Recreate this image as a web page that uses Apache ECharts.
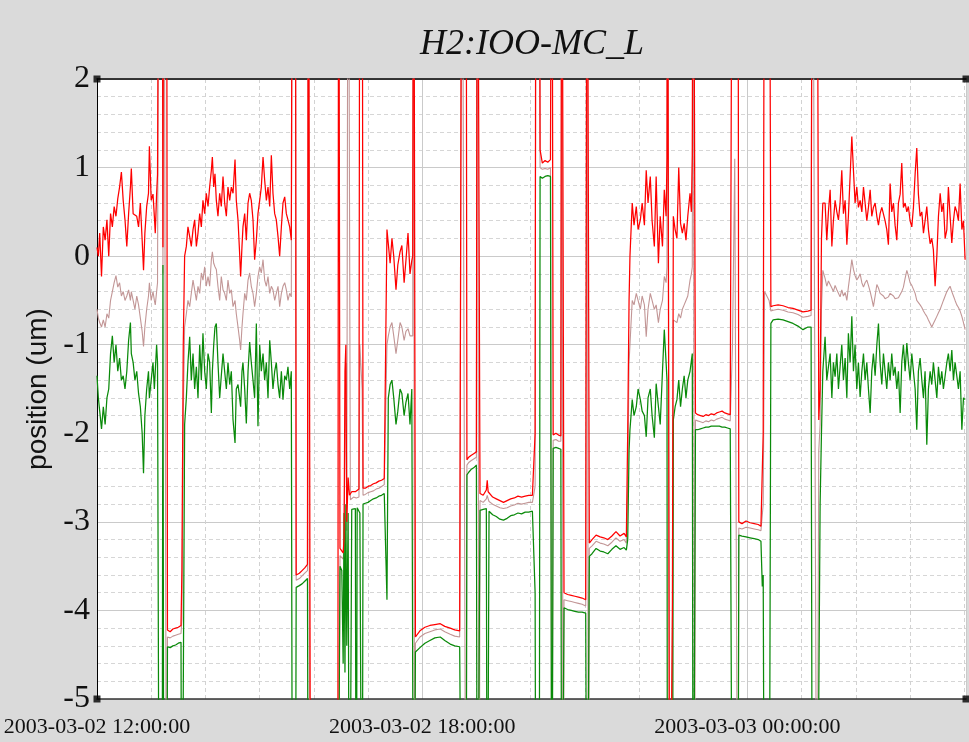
<!DOCTYPE html>
<html><head><meta charset="utf-8">
<script src="https://cdn.jsdelivr.net/npm/echarts@6/dist/echarts.min.js"></script>
<style>html,body{margin:0;padding:0;background:#dadada;}#main{width:969px;height:742px;}</style>
</head><body><div id="main"></div>
<script>
const titleText = 'H2:IOO-MC_L';
const yAxisName = 'position (um)';
const xTickLabels = ['2003-03-02 12:00:00', '2003-03-02 18:00:00', '2003-03-03 00:00:00'];
const xTickStep = 360;      // minutes between labelled ticks
const xMinorStep = 60;      // minutes between minor grid lines
const xMax = 962;           // minutes after 2003-03-02 12:00:00
const yMin = -5, yMax = 2;

// minutes after 2003-03-02 12:00:00
const minutes = [
  0,1.5,3,5,7,9,11,13,15,17,19,21,23,25,27,29,31,33,35,37,38,40,42,44,46,48,50,51.5,53,55,57,58,60,62,63.5,64.5,66,67,
  68,69,72,73,74,77,
  78,81,84,87,90,93,
  94,95.5,
  97.0,98.9,100.7,102.6,104.4,106.3,108.1,110.0,111.8,113.7,115.5,117.3,119.2,121.0,122.9,124.7,126.6,127.7,129.2,130.6,132.1,133.9,135.8,137.6,139.5,141.3,143.2,145.0,146.9,148.7,150.6,152.8,154.2,156.1,157.9,159.0,160.5,161.6,163.5,165.3,167.2,169.0,170.8,172.7,174.5,176.4,178.2,180.1,181.9,183.8,185.6,187.5,189.3,191.2,193.0,194.8,196.7,198.5,200.4,202.2,204.1,205.9,207.8,209.6,211.4,213.3,215.1,
  216.5,219.5,
  220.5,224,227,230,233,
  234,235.5,236.5,266.5,
  267.5,269,271,272.5,273.5,274.5,275.5,276.5,278,279.5,280.5,282,284,286,287,288,290,291,293.5,294.5,
  297,300,303,306,309,312,315,318,320,
  321,322.5,324.5,326.5,328.5,331,333,335.5,337.5,340,342,344.3,346.5,348.5,349.5,
  350.5,351.5,
  352.5,357.5,363,368.5,374,380,385,391,396,401.5,403,
  404,408.5,
  409.5,411.5,414,417,420,
  421,423,
  424,427.5,431,432,433,434,438,442,446,450,454,458,462,466,470,474,478,482,484,
  485,486,489.5,
  490.5,493,496,499,502,
  503.5,
  505,508,511,513.5,
  514.5,516,
  517,521,525,529,533,537,541,
  542.5,544,
  545,548,552.5,557,561,565.5,570,574.5,579,583.5,586,
  587.5,589,
  590,592.5,594.5,597,599,601.5,603.5,606,608,610,612.5,614.5,617,619,621.5,623.5,626,628,630,631,
  631.5,633,634,636,637,
  638,640,642,644,646,648,650,652,654,656.5,658,659,
  660,661.5,
  662.5,665,668,671,674,677,680,683,686,689,692,695,698,701,702.5,
  703.5,706,709.5,
  710.5,714,718.5,723,727.5,732,735,736.5,
  737.5,739,744,
  746,748.5,754,759.5,765,770.5,776,781.5,787,790.5,
  792,797,799,800.5,802,803.5,
  806.0,807.9,809.7,811.6,813.5,815.2,817.1,819.0,820.8,822.6,824.5,826.3,828.2,830.1,831.8,833.7,835.6,837.4,839.2,841.1,842.9,844.8,846.7,848.5,850.3,852.2,854.0,855.9,857.7,859.5,861.4,863.3,865.1,866.9,868.8,870.6,872.4,874.3,876.1,878.0,879.8,881.7,883.5,885.4,887.2,889.1,890.9,892.7,894.6,896.5,898.2,900.1,902.0,903.8,905.7,907.5,909.3,911.2,913.1,914.9,916.7,918.6,920.4,922.3,924.1,925.9,927.8,929.7,931.5,933.4,935.2,937.0,938.9,940.8,942.5,944.4,946.3,948.1,949.9,951.8,953.6,955.5,957.4,959.2,961.0
];

// maximum (red)
const maxValues = [
  0.1,0.0,0.26,-0.23,0.33,0.18,0.41,0.0,0.48,0.33,0.56,0.45,0.65,0.78,0.95,0.63,0.41,0.11,0.48,0.78,0.99,0.48,0.5,0.45,0.33,0.6,0.18,-0.16,0.26,0.56,0.71,1.24,0.63,0.7,0.45,0.26,0.7,0.92,
  0.9,6,6,0.1,6,6,
  -4.22,-4.24,-4.21,-4.20,-4.19,-4.17,
  -3.55,-1.0,
  0.0,0.11,0.33,0.22,0.11,0.30,0.41,0.11,0.26,0.48,0.33,0.63,0.48,0.71,0.56,0.78,0.97,1.12,0.78,0.93,0.63,0.45,0.71,0.56,0.90,0.60,0.45,0.78,0.63,0.78,0.71,1.09,0.63,0.41,0.03,-0.23,0.11,0.33,0.48,0.18,0.60,0.71,0.63,0.41,-0.04,0.18,0.48,0.63,0.78,1.12,0.86,0.63,0.78,0.56,1.14,0.71,0.48,0.41,0.22,0.0,0.33,0.60,0.67,0.48,0.41,0.33,0.18,
  6,6,
  -3.60,-3.58,-3.55,-3.52,-3.48,
  6,6,-8,-8,
  6,-3.3,-3.32,-3.35,-3.2,-1.3,-1.0,-3.0,-2.5,-2.7,-2.68,-2.66,-2.64,-2.66,-2.65,-2.64,-2.63,6,6,-2.62,
  -2.62,-2.60,-2.59,-2.57,-2.56,-2.54,-2.53,-2.51,-2.50,
  0.3,0.3,-0.08,0.2,0.0,-0.38,-0.1,0.05,0.12,-0.3,-0.05,0.26,-0.2,-0.05,0.0,
  6,6,
  -4.30,-4.23,-4.19,-4.17,-4.16,-4.15,-4.18,-4.20,-4.22,-4.23,-4.24,
  6,6,
  -2.30,-2.27,-2.25,-2.23,-2.21,
  6,6,
  -2.68,-2.70,-2.64,-2.53,-2.66,-2.68,-2.72,-2.74,-2.76,-2.78,-2.76,-2.74,-2.73,-2.71,-2.72,-2.71,-2.70,-2.70,-2.69,
  -2.0,6,6,
  1.2,1.05,1.08,1.06,1.09,
  6,
  -2.02,-2.00,-2.02,-2.03,
  6,6,
  -3.80,-3.82,-3.83,-3.84,-3.85,-3.86,-3.88,
  6,6,
  -3.24,-3.20,-3.15,-3.17,-3.18,-3.20,-3.16,-3.11,-3.16,-3.13,-3.17,
  -2.0,-0.5,
  0.0,0.6,0.35,0.56,0.3,0.41,0.6,0.35,0.97,0.6,0.9,0.4,0.11,0.9,-0.08,0.45,0.11,0.75,0.45,1.12,
  6,6,-8,-8,-3.9,
  0.45,0.3,0.2,1.0,0.37,0.26,0.37,0.18,0.45,0.71,0.5,1.14,
  6,6,
  -1.77,-1.79,-1.80,-1.81,-1.79,-1.80,-1.78,-1.79,-1.77,-1.76,-1.75,-1.77,-1.78,-1.79,-1.80,
  6,6,6,
  -3.00,-3.02,-2.99,-3.01,-3.02,-3.03,-3.05,-3.06,
  -2.0,6,6,
  -0.57,-0.56,-0.55,-0.56,-0.58,-0.59,-0.61,-0.63,-0.62,-0.61,
  6,6,-1.85,-1.5,0.2,0.6,
  0.60,0.18,0.5,0.75,0.11,0.4,0.63,0.5,0.41,0.6,0.97,0.48,0.63,0.13,0.45,0.9,1.35,0.97,0.6,0.78,0.55,0.63,0.5,0.78,0.6,0.4,0.55,0.75,0.45,0.55,0.6,0.45,0.35,0.48,0.55,0.56,0.4,0.3,0.13,0.82,0.5,0.6,0.35,0.18,0.6,0.7,1.05,0.55,0.6,0.5,0.56,0.4,0.33,0.55,0.93,1.22,0.7,0.45,0.5,0.26,0.4,0.56,0.3,0.14,0.2,0.07,-0.34,0.0,0.45,0.71,0.5,0.6,0.2,0.3,0.78,0.45,0.15,0.4,0.56,0.5,0.4,0.82,0.3,0.4,-0.04
];

// mean (rosy)
const meanValues = [
  -0.6,-0.7,-0.75,-0.8,-0.72,-0.8,-0.65,-0.7,-0.5,-0.4,-0.3,-0.22,-0.35,-0.3,-0.45,-0.4,-0.5,-0.45,-0.38,-0.5,-0.4,-0.5,-0.6,-0.45,-0.55,-0.7,-0.85,-1.02,-0.8,-0.6,-0.45,-0.3,-0.5,-0.4,-0.5,-0.55,-0.4,-0.3,
  -0.3,6,6,-0.2,6,-8,
  -4.30,-4.31,-4.29,-4.28,-4.27,-4.26,
  -4.1,-1.8,
  -0.80,-0.65,-0.50,-0.57,-0.42,-0.27,-0.38,-0.50,-0.34,-0.42,-0.19,-0.27,-0.12,-0.34,-0.23,-0.34,-0.04,0.05,-0.08,-0.12,-0.15,-0.34,-0.50,-0.23,-0.38,-0.42,-0.50,-0.27,-0.42,-0.38,-0.57,-0.50,-0.65,-0.80,-0.95,-1.06,-0.80,-0.65,-0.42,-0.50,-0.27,-0.19,-0.34,-0.42,-0.57,-0.42,-0.23,-0.12,-0.19,-0.04,-0.27,-0.34,-0.23,-0.42,-0.34,-0.38,-0.50,-0.42,-0.34,-0.57,-0.42,-0.34,-0.30,-0.38,-0.50,-0.42,-0.46,
  6,6,
  -3.66,-3.64,-3.61,-3.58,-3.55,
  6,-8,-8,-8,
  -8,-3.38,-3.4,-3.42,-3.3,-2.0,-1.2,-3.1,6,6,-2.75,-2.74,-2.72,-2.74,-2.73,-2.72,-2.72,-1.0,-1.5,-2.7,
  -2.69,-2.67,-2.66,-2.65,-2.63,-2.62,-2.60,-2.58,-2.57,
  -1.0,-0.9,-0.8,-0.75,-0.9,-1.1,-0.95,-0.75,-0.8,-0.95,-0.85,-0.82,-0.9,-0.88,-0.9,
  6,-8,
  -4.37,-4.30,-4.26,-4.24,-4.22,-4.21,-4.24,-4.27,-4.29,-4.30,-4.31,
  6,-8,
  -2.36,-2.33,-2.31,-2.29,-2.27,
  6,-8,
  -2.76,-2.78,-2.74,-2.70,-2.74,-2.77,-2.80,-2.82,-2.84,-2.85,-2.84,-2.82,-2.81,-2.79,-2.80,-2.79,-2.78,-2.78,-2.77,
  -2.6,6,6,
  1.0,0.98,0.99,0.98,1.0,
  -8,
  -2.08,-2.07,-2.09,-2.09,
  6,-8,
  -3.88,-3.89,-3.90,-3.91,-3.92,-3.93,-3.95,
  6,-8,
  -3.30,-3.27,-3.22,-3.24,-3.25,-3.27,-3.23,-3.18,-3.22,-3.20,-3.24,
  -2.6,-1.2,
  -1.0,-0.5,-0.55,-0.42,-0.5,-0.6,-0.45,-0.55,-0.91,-0.6,-0.42,-0.5,-0.6,-0.55,-0.75,-0.6,-0.5,-0.23,-0.3,-0.12,
  6,6,-8,-8,-4.5,
  -0.72,-0.7,-0.75,-0.65,-0.7,-0.6,-0.55,-0.5,-0.45,-0.27,-0.2,-0.12,
  6,-8,
  -1.85,-1.86,-1.87,-1.88,-1.86,-1.87,-1.85,-1.86,-1.84,-1.83,-1.82,-1.84,-1.85,-1.86,-1.87,
  -1.0,1.1,-8,
  -3.07,-3.08,-3.06,-3.07,-3.08,-3.09,-3.10,-3.11,
  -2.8,-0.4,-0.5,
  -0.62,-0.61,-0.60,-0.61,-0.63,-0.64,-0.66,-0.69,-0.68,-0.67,
  6,-8,-2.2,-1.9,-0.6,-0.16,
  -0.25,-0.34,-0.28,-0.3,-0.36,-0.4,-0.33,-0.38,-0.42,-0.46,-0.38,-0.45,-0.41,-0.5,-0.35,-0.2,-0.04,-0.15,-0.22,-0.27,-0.24,-0.2,-0.3,-0.35,-0.3,-0.27,-0.33,-0.4,-0.48,-0.57,-0.45,-0.32,-0.36,-0.42,-0.4,-0.45,-0.48,-0.5,-0.46,-0.42,-0.44,-0.45,-0.48,-0.5,-0.47,-0.45,-0.4,-0.35,-0.25,-0.16,-0.22,-0.3,-0.33,-0.35,-0.42,-0.5,-0.52,-0.55,-0.58,-0.62,-0.65,-0.68,-0.72,-0.76,-0.8,-0.76,-0.72,-0.68,-0.64,-0.6,-0.55,-0.5,-0.45,-0.4,-0.37,-0.34,-0.4,-0.45,-0.5,-0.55,-0.58,-0.62,-0.68,-0.75,-0.83
];

// minimum (green)
const minValues = [
  -1.35,-1.6,-1.75,-1.95,-1.7,-1.9,-1.6,-1.5,-1.1,-0.9,-1.2,-1.0,-1.3,-1.15,-1.4,-1.35,-1.5,-1.3,-0.95,-0.75,-1.1,-1.2,-1.4,-1.3,-1.55,-1.7,-2.0,-2.45,-1.8,-1.5,-1.3,-1.6,-1.4,-1.2,-1.5,-1.3,-1.0,-1.2,
  -1.2,-8,-8,-0.1,-8,-8,
  -4.41,-4.42,-4.40,-4.39,-4.37,-4.36,
  -8,-8,
  -1.9,-1.6,-1.2,-0.91,-1.4,-1.1,-1.5,-1.25,-1.6,-1.0,-1.4,-0.87,-1.3,-1.5,-1.1,-1.2,-1.77,-1.3,-1.0,-0.8,-0.76,-1.2,-1.6,-1.35,-1.1,-1.3,-1.5,-1.2,-1.45,-1.3,-1.85,-2.11,-1.5,-1.45,-1.6,-1.7,-1.3,-1.2,-1.5,-1.89,-1.3,-0.97,-1.2,-1.4,-1.6,-0.76,-1.92,-1.0,-1.3,-1.1,-1.4,-1.2,-1.6,-0.95,-1.2,-1.5,-1.3,-1.2,-1.45,-1.6,-1.3,-1.62,-1.35,-1.4,-1.25,-1.5,-1.3,
  -8,-8,
  -3.74,-3.72,-3.70,-3.67,-3.64,
  -8,-8,-8,-8,
  -8,-3.5,-3.55,-4.6,-2.9,-4.7,-2.8,-4.4,-2.9,-8,-8,-2.86,-2.84,-2.85,-8,-2.84,-2.83,-2.9,-8,-2.8,
  -2.79,-2.78,-2.76,-2.74,-2.73,-2.71,-2.70,-2.68,-2.67,
  -3.88,-1.6,-1.45,-1.4,-1.6,-1.9,-1.75,-1.5,-1.55,-1.8,-1.65,-1.55,-1.9,-1.5,-1.5,
  -8,-8,
  -4.47,-4.42,-4.37,-4.34,-4.31,-4.30,-4.34,-4.38,-4.40,-4.41,-4.42,
  -8,-8,
  -2.47,-2.44,-2.41,-2.39,-2.36,
  -8,-8,
  -2.87,-2.86,-2.85,-8,-8,-2.88,-2.92,-2.94,-2.97,-2.98,-2.96,-2.93,-2.92,-2.90,-2.91,-2.89,-2.89,-2.88,-2.88,
  -3.8,-8,-8,
  0.9,0.88,0.9,0.91,0.9,
  -8,
  -2.17,-2.16,-2.17,-2.18,
  -8,-8,
  -3.97,-3.99,-4.00,-4.01,-4.02,-4.02,-4.03,
  -8,-8,
  -3.39,-3.36,-3.30,-3.33,-3.34,-3.36,-3.31,-3.27,-3.31,-3.29,-3.32,
  -3.2,-2.2,
  -1.96,-1.62,-1.8,-1.7,-1.5,-1.62,-1.75,-1.8,-2.04,-1.6,-1.5,-1.8,-2.05,-1.44,-1.7,-1.9,-1.3,-0.83,-1.2,-1.4,
  -8,-8,-8,-8,-8,
  -1.85,-1.7,-1.62,-1.4,-1.7,-1.5,-1.35,-1.6,-1.4,-1.3,-1.29,-1.1,
  -8,-8,
  -1.96,-1.96,-1.95,-1.94,-1.93,-1.93,-1.92,-1.92,-1.92,-1.92,-1.93,-1.93,-1.94,-1.95,-1.96,
  -8,-8,-8,
  -3.15,-3.16,-3.17,-3.18,-3.19,-3.20,-3.22,-3.73,
  -3.6,-8,-8,
  -0.76,-0.72,-0.71,-0.72,-0.74,-0.76,-0.79,-0.83,-0.80,-0.80,
  -8,-8,-8,-2.8,-2.0,-1.3,
  -0.91,-1.4,-1.25,-1.1,-1.6,-1.2,-1.36,-1.1,-1.5,-1.25,-1.0,-1.4,-1.15,-1.6,-0.87,-1.2,-0.68,-1.3,-1.0,-1.5,-1.2,-1.59,-1.3,-1.1,-1.4,-1.2,-1.5,-1.77,-1.3,-1.1,-1.35,-1.0,-0.76,-1.2,-1.45,-1.1,-1.3,-1.5,-1.2,-1.4,-1.1,-1.35,-1.25,-1.5,-1.3,-1.77,-1.2,-1.0,-1.3,-0.98,-1.2,-1.4,-1.1,-1.3,-1.5,-1.96,-1.3,-1.15,-1.4,-1.6,-1.3,-2.13,-1.5,-1.3,-1.45,-1.2,-1.4,-1.6,-1.25,-1.45,-1.3,-1.5,-1.35,-1.2,-1.1,-1.3,-1.06,-1.4,-1.2,-1.35,-1.5,-1.3,-1.96,-1.6,-1.62
];

const pairs = vals => minutes.map((m, i) => [m, vals[i]]);
const corners = [[0, yMax], [xMax, yMax], [0, yMin], [xMax, yMin]];

const chart = echarts.init(document.getElementById('main'), null, { renderer: 'canvas' });
const serif = 'Liberation Serif, Times New Roman, serif';
const lineCommon = { type: 'line', showSymbol: false, symbol: 'none', clip: true, silent: true, animation: false };

chart.setOption({
  backgroundColor: '#dadada',
  animation: false,
  title: {
    text: titleText, left: 527, top: 22, textAlign: 'center',
    textStyle: { fontFamily: serif, fontStyle: 'italic', fontWeight: 'normal', fontSize: 36, color: '#111' }
  },
  grid: { left: 97, right: 3, top: 79, bottom: 43, show: true, backgroundColor: '#ffffff', borderWidth: 0, containLabel: false, outerBoundsMode: 'none' },
  xAxis: [
    {
      type: 'value', min: 0, max: xMax, interval: xMinorStep, position: 'bottom',
      axisLine: { show: true, onZero: false, lineStyle: { color: '#333', width: 1.5 } },
      axisTick: { show: false },
      splitLine: { show: true, lineStyle: { color: '#d2d2d2', type: [4, 3], width: 1 } },
      axisLabel: {
        show: true, margin: 17, fontFamily: serif, fontSize: 22, color: '#111',
        showMinLabel: true, showMaxLabel: true, hideOverlap: false,
        formatter: v => (v % xTickStep === 0 && xTickLabels[v / xTickStep]) ? xTickLabels[v / xTickStep] : ''
      }
    },
    {
      type: 'value', min: 0, max: xMax, interval: xTickStep, position: 'top',
      axisLine: { show: true, onZero: false, lineStyle: { color: '#000', width: 1.5 } },
      axisTick: { show: false }, axisLabel: { show: false },
      splitLine: { show: true, lineStyle: { color: '#cacaca', type: 'solid', width: 1 } }
    }
  ],
  yAxis: {
    type: 'value', min: yMin, max: yMax, interval: 1,
    name: yAxisName, nameLocation: 'middle', nameGap: 42,
    nameTextStyle: { fontFamily: 'Liberation Sans, Arial, sans-serif', fontSize: 28, color: '#111' },
    axisLine: { show: true, onZero: false, lineStyle: { color: '#000', width: 1 } },
    axisTick: { show: false },
    axisLabel: { margin: 7, fontFamily: serif, fontSize: 32, color: '#111' },
    splitLine: { show: true, lineStyle: { color: '#cacaca', type: 'solid', width: 1 } },
    minorTick: { show: false, splitNumber: 5 },
    minorSplitLine: { show: true, lineStyle: { color: '#d6d6d6', type: [4, 3], width: 1 } }
  },
  series: [
    Object.assign({}, lineCommon, { name: 'mean', data: pairs(meanValues), z: 2, lineStyle: { color: '#c29696', width: 1.1 }, itemStyle: { color: '#c29696' } }),
    Object.assign({}, lineCommon, { name: 'min', data: pairs(minValues), z: 3, lineStyle: { color: '#0a8a0a', width: 1.25 }, itemStyle: { color: '#0a8a0a' } }),
    Object.assign({}, lineCommon, { name: 'max', data: pairs(maxValues), z: 4, lineStyle: { color: '#ff0000', width: 1.25 }, itemStyle: { color: '#ff0000' } }),
    { type: 'scatter', data: corners, symbol: 'rect', symbolSize: 7, clip: false, silent: true, z: 10, itemStyle: { color: '#000' } }
  ]
});
if (minutes.length !== maxValues.length || minutes.length !== meanValues.length || minutes.length !== minValues.length) {
  console.error('length mismatch', minutes.length, maxValues.length, meanValues.length, minValues.length);
}
</script>
</body></html>
